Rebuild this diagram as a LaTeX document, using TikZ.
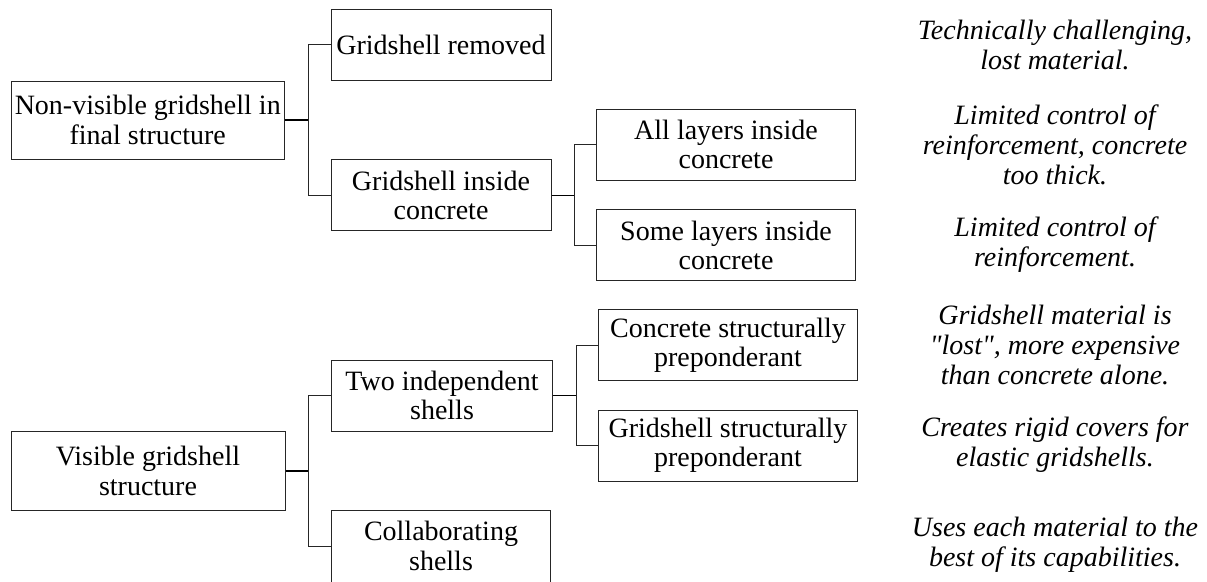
\documentclass[tikz,border=0pt]{standalone}
\usepackage{fontspec}
\setmainfont{Liberation Serif}
\newfontfamily\notefont{Liberation Serif}
\begin{document}
\begin{tikzpicture}[x=1pt,y=-1pt,
  box/.style={draw=black!85,line width=1pt,fill=white,align=center,font=\fontsize{28}{29.3}\selectfont,inner sep=0pt},
  note/.style={align=center,font=\notefont\fontsize{28}{29.8}\selectfont\itshape,inner sep=0pt},
  link/.style={draw=black!85,line width=1pt},
  stem/.style={draw=black,line width=1.4pt}]
\useasboundingbox (0,0) rectangle (1207,581);
\def\bx#1#2#3#4#5#6{\node[box,minimum width=#4pt,minimum height=#5pt] (#1) at (#2+#4/2,#3+#5/2) {#6};}
\bx{a}{11}{81}{273.5}{78}{Non-visible gridshell in\\final structure}
\bx{b}{331}{9}{220}{71}{Gridshell removed}
\bx{c}{331}{159.7}{220}{71}{Gridshell inside\\concrete}
\bx{d}{596.5}{109}{259}{71}{All layers inside\\concrete}
\bx{e}{596.5}{209.7}{259}{71}{Some layers inside\\concrete}
\bx{f}{598.5}{309.7}{259}{71}{Concrete structurally\\preponderant}
\bx{g}{598.5}{410}{259}{71}{Gridshell structurally\\preponderant}
\bx{h}{331.5}{360}{221}{71}{Two independent\\shells}
\bx{i}{331.5}{510}{219}{72}{Collaborating\\shells}
\bx{j}{11}{431.7}{274}{78.3}{Visible gridshell\\structure}
\draw[stem] (a.east) -- ++(23,0) coordinate (ja);
\draw[link] (b.west) -| (ja);
\draw[link] (c.west) -| (ja);
\draw[stem] (c.east) -- ++(22.5,0) coordinate (jc);
\draw[link] (d.west) -| (jc);
\draw[link] (e.west) -| (jc);
\draw[stem] (h.east) -- ++(23,0) coordinate (jh);
\draw[link] (f.west) -| (jh);
\draw[link] (g.west) -| (jh);
\draw[stem] (j.east) -- ++(23,0) coordinate (jj);
\draw[link] (h.west) -| (jj);
\draw[link] (i.west) -| (jj);
\node[note] (n1) at (1055,45) {Technically challenging,\\lost material.};
\node[note] (n2) at (1055,145) {Limited control of\\reinforcement, concrete\\too thick.};
\node[note] (n3) at (1055,245) {Limited control of\\reinforcement.};
\node[note] (n4) at (1055,345) {Gridshell material is\\"lost", more expensive\\than concrete alone.};
\node[note] (n5) at (1055,445) {Creates rigid covers for\\elastic gridshells.};
\node[note] (n6) at (1055,545) {Uses each material to the\\best of its capabilities.};
\end{tikzpicture}
\end{document}
